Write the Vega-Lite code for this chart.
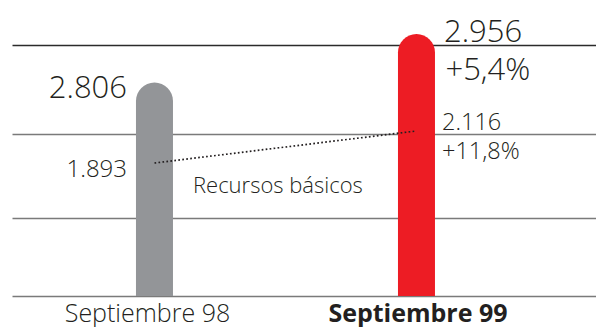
{
  "$schema": "https://vega.github.io/schema/vega-lite/v6.json",
  "width": 584,
  "height": 296,
  "autosize": "none",
  "padding": {"left": 12, "top": 0, "right": 0, "bottom": 31},
  "background": "#ffffff",
  "config": {
    "view": {"stroke": null},
    "locale": {"number": {"decimal": ",", "thousands": ".", "grouping": [3], "currency": ["", " €"]}},
    "text": {"font": "Open Sans", "fontWeight": 300, "color": "#231f20", "baseline": "alphabetic"}
  },
  "data": {
    "values": [
      {"periodo": "Septiembre 98", "total": 2806, "basicos": 1893, "var_total": "", "var_basicos": "", "serie": "Recursos básicos"},
      {"periodo": "Septiembre 99", "total": 2956, "basicos": 2116, "var_total": "+5,4%", "var_basicos": "+11,8%", "serie": "Recursos básicos"}
    ]
  },
  "encoding": {
    "x": {
      "field": "periodo",
      "type": "nominal",
      "sort": null,
      "scale": {"type": "band", "paddingInner": 0.8588, "paddingOuter": 0.5439, "align": 0.435, "round": false},
      "axis": {
        "title": null,
        "ticks": false,
        "tickSize": 0,
        "domainColor": "#7a7a7a",
        "domainWidth": 1.5,
        "labelAngle": 0,
        "labelFont": "Open Sans",
        "labelFontSize": 25,
        "labelColor": "#231f20",
        "labelBaseline": "alphabetic",
        "labelPadding": 25,
        "labelFontWeight": {"condition": {"test": "datum.value === 'Septiembre 99'", "value": 700}, "value": 300},
        "labelOffset": {"condition": {"test": "datum.value === 'Septiembre 99'", "value": 1.5}, "value": -7}
      }
    }
  },
  "layer": [
    {
      "encoding": {
        "y": {
          "type": "quantitative",
          "scale": {"domain": [2146, 3061], "zero": false, "nice": false}
        }
      },
      "layer": [
        {
          "mark": {"type": "bar", "width": 37, "cornerRadiusTopLeft": 18.5, "cornerRadiusTopRight": 18.5},
          "encoding": {
            "y": {
              "field": "total",
              "type": "quantitative",
              "axis": {
                "title": null,
                "values": [2387, 2647, 2922],
                "grid": true,
                "gridColor": {"condition": {"test": "datum.value > 2900", "value": "#2b2b2b"}, "value": "#7a7a7a"},
                "gridWidth": 1.5,
                "domain": false,
                "ticks": false,
                "labels": false
              }
            },
            "y2": {"datum": 2146},
            "color": {
              "field": "periodo",
              "type": "nominal",
              "scale": {"range": ["#939598", "#ed1c24"]},
              "legend": null
            }
          }
        },
        {
          "transform": [{"filter": "datum.periodo === 'Septiembre 98'"}],
          "mark": {"type": "text", "align": "right", "dx": -27.5, "dy": 15.5, "fontSize": 31},
          "encoding": {
            "y": {"field": "total", "type": "quantitative"},
            "text": {"field": "total", "type": "quantitative", "format": ",d"}
          }
        },
        {
          "transform": [{"filter": "datum.periodo === 'Septiembre 99'"}],
          "mark": {"type": "text", "align": "left", "dx": 27.5, "dy": 8, "fontSize": 31},
          "encoding": {
            "y": {"field": "total", "type": "quantitative"},
            "text": {"field": "total", "type": "quantitative", "format": ",d"}
          }
        },
        {
          "transform": [{"filter": "datum.periodo === 'Septiembre 99'"}],
          "mark": {"type": "text", "align": "left", "dx": 29, "dy": 46, "fontSize": 31},
          "encoding": {
            "y": {"field": "total", "type": "quantitative"},
            "text": {"field": "var_total"}
          }
        }
      ]
    },
    {
      "encoding": {
        "y": {
          "field": "basicos",
          "type": "quantitative",
          "scale": {"domain": [966, 3029], "zero": false, "nice": false},
          "axis": null
        }
      },
      "layer": [
        {
          "mark": {"type": "line", "color": "#231f20", "strokeWidth": 1.7, "strokeDash": [1.7, 2.3]}
        },
        {
          "transform": [{"filter": "datum.periodo === 'Septiembre 98'"}],
          "mark": {"type": "text", "align": "right", "dx": -27.5, "dy": 14, "fontSize": 24},
          "encoding": {"text": {"field": "basicos", "type": "quantitative", "format": ",d"}}
        },
        {
          "transform": [{"filter": "datum.periodo === 'Septiembre 98'"}],
          "mark": {"type": "text", "align": "left", "dx": 38.5, "dy": 30, "fontSize": 22},
          "encoding": {"text": {"field": "serie"}}
        },
        {
          "transform": [{"filter": "datum.periodo === 'Septiembre 99'"}],
          "mark": {"type": "text", "align": "left", "dx": 25.5, "dy": -1, "fontSize": 23.5},
          "encoding": {"text": {"field": "basicos", "type": "quantitative", "format": ",d"}}
        },
        {
          "transform": [{"filter": "datum.periodo === 'Septiembre 99'"}],
          "mark": {"type": "text", "align": "left", "dx": 25.5, "dy": 28, "fontSize": 23.5},
          "encoding": {"text": {"field": "var_basicos"}}
        }
      ]
    }
  ],
  "resolve": {"scale": {"y": "independent"}}
}
